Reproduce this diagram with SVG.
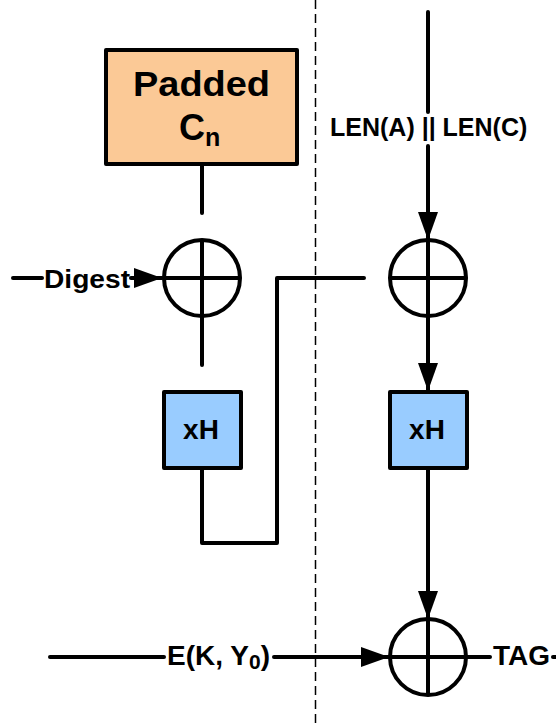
<svg xmlns="http://www.w3.org/2000/svg" width="556" height="728" viewBox="0 0 556 728">
  <style>
    .ln { fill: none; stroke: #000; stroke-width: 4; stroke-linecap: round; stroke-linejoin: round; }
    .xor circle, .xor line { fill: none; stroke: #000; stroke-width: 4; }
    .box { stroke: #000; stroke-width: 4; stroke-linejoin: round; }
    .t { font-family: "Liberation Sans", Arial, sans-serif; font-weight: bold; fill: #000; }
  </style>
  <defs>
    <marker id="arr" viewBox="0 0 28 20" refX="28" refY="10" markerWidth="28" markerHeight="20" markerUnits="userSpaceOnUse" orient="auto">
      <path d="M0,0 L28,10 L0,20 Z" fill="#000"/>
    </marker>
  </defs>

  <!-- divider -->
  <line x1="315.5" y1="0" x2="315.5" y2="728" stroke="#000" stroke-width="1.5" stroke-dasharray="9,5"/>

  <g id="connectors">
    <!-- left column -->
    <line class="ln" x1="202" y1="164" x2="202" y2="213"/>
    <line class="ln" x1="202" y1="316" x2="202" y2="365"/>
    <line class="ln" x1="13" y1="278" x2="42" y2="278"/>
    <line class="ln" x1="131" y1="278" x2="162" y2="278" marker-end="url(#arr)"/>
    <polyline class="ln" points="202,468 202,543 277,543 277,278 364,278"/>
    <!-- right column -->
    <line class="ln" x1="428" y1="12" x2="428" y2="112"/>
    <line class="ln" x1="428" y1="146" x2="428" y2="240" marker-end="url(#arr)"/>
    <line class="ln" x1="428" y1="316" x2="428" y2="391" marker-end="url(#arr)"/>
    <line class="ln" x1="428" y1="468" x2="428" y2="619" marker-end="url(#arr)"/>
    <!-- bottom row -->
    <line class="ln" x1="50" y1="657" x2="164" y2="657"/>
    <line class="ln" x1="274" y1="657" x2="389" y2="657" marker-end="url(#arr)"/>
    <line class="ln" x1="466" y1="657" x2="490" y2="657"/>
    <line class="ln" x1="553" y1="657" x2="556" y2="657"/>
  </g>

  <g id="padded-cn">
    <rect class="box" x="106" y="50" width="191" height="114" fill="#fbc996"/>
    <text class="t" x="133" y="96" font-size="35" textLength="137" lengthAdjust="spacingAndGlyphs">Padded</text>
    <text class="t" x="179" y="140" font-size="36">C<tspan font-size="25" dy="6">n</tspan></text>
  </g>

  <g id="xor-left" class="xor">
    <circle cx="202" cy="278" r="38"/>
    <line x1="202" y1="240" x2="202" y2="316"/>
    <line x1="164" y1="278" x2="240" y2="278"/>
  </g>

  <g id="xh-left">
    <rect class="box" x="164" y="392" width="77" height="76" fill="#99ccff"/>
    <text class="t" x="201" y="439" font-size="28" text-anchor="middle">xH</text>
  </g>

  <g id="xor-right" class="xor">
    <circle cx="428" cy="278" r="38"/>
    <line x1="428" y1="240" x2="428" y2="316"/>
    <line x1="390" y1="278" x2="466" y2="278"/>
  </g>

  <g id="xh-right">
    <rect class="box" x="390" y="392" width="77" height="76" fill="#99ccff"/>
    <text class="t" x="427" y="439" font-size="28" text-anchor="middle">xH</text>
  </g>

  <g id="xor-tag" class="xor">
    <circle cx="428" cy="657" r="38"/>
    <line x1="428" y1="619" x2="428" y2="695"/>
    <line x1="390" y1="657" x2="466" y2="657"/>
  </g>

  <g id="labels">
    <text class="t" x="44" y="288" font-size="25" textLength="86" lengthAdjust="spacingAndGlyphs">Digest</text>
    <text class="t" x="330" y="136" font-size="25">LEN(A) || LEN(C)</text>
    <text class="t" x="167" y="665" font-size="28">E(K, Y<tspan font-size="21" dy="4">0</tspan><tspan dy="-4">)</tspan></text>
    <text class="t" x="493" y="665" font-size="28">TAG</text>
  </g>
</svg>
